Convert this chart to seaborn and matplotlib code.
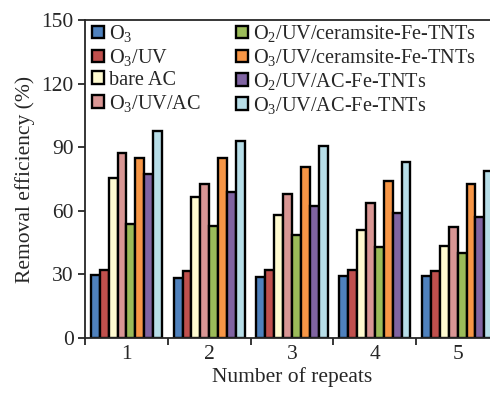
import matplotlib
matplotlib.use("Agg")
import matplotlib.pyplot as plt
import seaborn as sns
import pandas as pd
from matplotlib.ticker import FixedLocator

repeats = ["1", "2", "3", "4", "5"]
series = ["O$_3$", "O$_3$/UV", "bare AC", "O$_3$/UV/AC",
          "O$_2$/UV/ceramsite-Fe-TNTs", "O$_3$/UV/ceramsite-Fe-TNTs",
          "O$_2$/UV/AC-Fe-TNTs", "O$_3$/UV/AC-Fe-TNTs"]
o3 = [29.9, 28.5, 28.9, 29.4, 29.1]
o3_uv = [32.2, 31.6, 32.2, 31.9, 31.8]
bare_ac = [75.6, 66.7, 58.2, 50.9, 43.6]
o3_uv_ac = [87.1, 72.5, 68.1, 63.8, 52.5]
o2_uv_cer = [53.9, 52.8, 48.6, 42.8, 40.2]
o3_uv_cer = [84.9, 85.1, 80.5, 73.9, 72.8]
o2_uv_acfe = [77.2, 68.9, 62.3, 59.1, 57.3]
o3_uv_acfe = [97.6, 92.8, 90.7, 82.9, 78.6]
values = [o3, o3_uv, bare_ac, o3_uv_ac, o2_uv_cer, o3_uv_cer, o2_uv_acfe, o3_uv_acfe]
colors = ["#4F81BD", "#C0504D", "#FFFBD0", "#D99694",
          "#9BBB59", "#F79646", "#8064A2", "#B7DEE8"]

rows = []
for s, vals in zip(series, values):
    for r, v in zip(repeats, vals):
        rows.append({"repeat": r, "series": s, "value": v})
df = pd.DataFrame(rows)

sns.set_style("ticks")
plt.rcParams["font.family"] = ["Liberation Serif", "DejaVu Serif"]
plt.rcParams["mathtext.fontset"] = "custom"
plt.rcParams["mathtext.rm"] = "Liberation Serif"
plt.rcParams["mathtext.it"] = "Liberation Serif:italic"
plt.rcParams["mathtext.bf"] = "Liberation Serif:bold"

fig = plt.figure(figsize=(4.9, 3.94), dpi=100)
ax = fig.add_axes([0.1735, 0.142, 0.845, 0.807])
sns.barplot(data=df, x="repeat", y="value", hue="series", hue_order=series,
            order=repeats, palette=colors, width=0.86, edgecolor="black",
            linewidth=1.7, saturation=1, ax=ax, legend=True)

fs = 15.5
ax.set_ylim(0, 150)
ax.set_yticks([0, 30, 60, 90, 120, 150])
ax.set_xlim(-0.5, 4.5)
ax.xaxis.set_minor_locator(FixedLocator([-0.5, 0.5, 1.5, 2.5, 3.5, 4.5]))
ax.tick_params(axis="x", which="major", length=0, labelsize=fs, pad=5)
ax.tick_params(axis="x", which="minor", length=5, width=1.3, direction="out")
ax.tick_params(axis="y", length=5, width=1.3, direction="out", labelsize=fs, pad=3)
for sp in ax.spines.values():
    sp.set_linewidth(1.3)
ax.set_xlabel("Number of repeats", fontsize=fs, labelpad=2)
ax.set_ylabel("Removal efficiency (%)", fontsize=fs, labelpad=5)

handles, labels = ax.get_legend_handles_labels()
ax.legend(handles, labels, ncol=2, frameon=False, loc="upper left",
          bbox_to_anchor=(-0.014, 1.032), fontsize=14.6, handlelength=0.57,
          handleheight=0.57, handletextpad=0.25, labelspacing=0.14,
          columnspacing=1.75, borderaxespad=0.25)

fig.savefig("out.png", dpi=100)
